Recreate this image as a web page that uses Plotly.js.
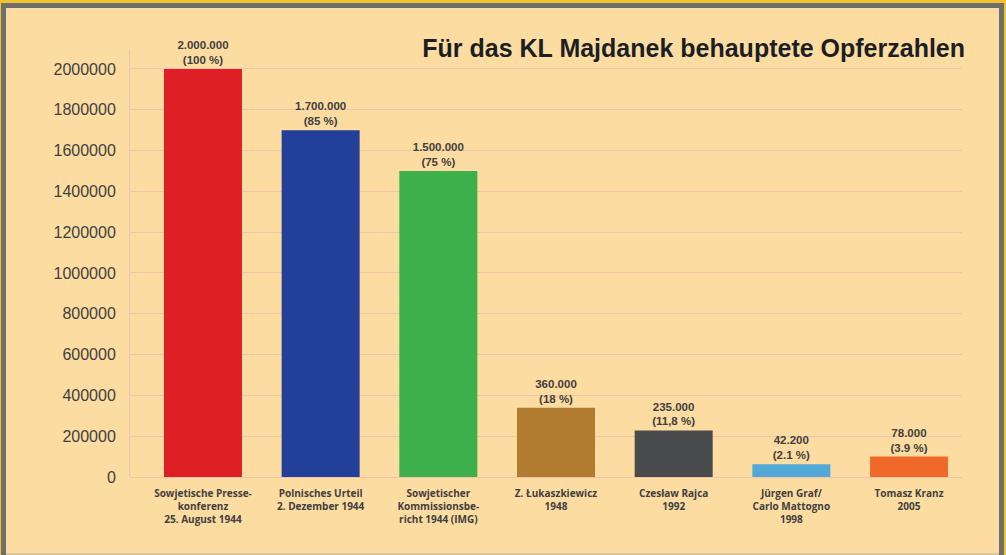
<!DOCTYPE html>
<html>
<head>
<meta charset="utf-8">
<script src="https://cdn.plot.ly/plotly-3.0.1.min.js"></script>
<style>
  html, body { margin: 0; padding: 0; background: #F2C230; }
  #outer { position: relative; width: 1006px; height: 555px; background: #F2C230; overflow: hidden; }
  #frame { position: absolute; left: 1px; top: 3px; width: 1003px; height: 552px; background: #6E6E6E; }
  #chart { position: absolute; left: 6px; top: 8px; width: 993px; height: 546px; }
  #bottomline { position: absolute; left: 6px; top: 553px; width: 993px; height: 2px; background: #D9C596; }
</style>
</head>
<body>
<div id="outer">
  <div id="frame"></div>
  <div id="chart"></div>
  <div id="bottomline"></div>
</div>
<script>
// ---- data ----
const categories = [
  "Sowjetische Presse-<br>konferenz<br>25. August 1944",
  "Polnisches Urteil<br>2. Dezember 1944",
  "Sowjetischer<br>Kommissionsbe-<br>richt 1944 (IMG)",
  "Z. Łukaszkiewicz<br>1948",
  "Czesław Rajca<br>1992",
  "Jürgen Graf/<br>Carlo Mattogno<br>1998",
  "Tomasz Kranz<br>2005"
];
const barHeights = [2000000, 1700000, 1500000, 340000, 228000, 63000, 100000];
const valueLabels = ["2.000.000", "1.700.000", "1.500.000", "360.000", "235.000", "42.200", "78.000"];
const shareLabels = ["(100 %)", "(85 %)", "(75 %)", "(18 %)", "(11,8 %)", "(2.1 %)", "(3.9 %)"];
const barColors = ["#DF1F26", "#22409A", "#3DB04B", "#B27C30", "#4A4B4D", "#53A9D6", "#EF6A2A"];
const yTickVals = [0, 200000, 400000, 600000, 800000, 1000000, 1200000, 1400000, 1600000, 1800000, 2000000];
const titleText = "Für das KL Majdanek behauptete Opferzahlen";

const barText = valueLabels.map((v, i) => "<b>" + v + "<br>" + shareLabels[i] + "</b>");
const tickText = categories.map(c => "<b>" + c + "</b>");

const trace = {
  type: "bar",
  x: categories,
  y: barHeights,
  marker: { color: barColors, line: { width: 0 } },
  text: barText,
  textposition: "outside",
  constraintext: "none",
  cliponaxis: false,
  textfont: { family: "Liberation Sans, Arial, sans-serif", size: 11.5, color: "#404040" },
  hoverinfo: "none"
};

const grid = "#F5C0AC";
const layout = {
  width: 993,
  height: 546,
  margin: { l: 124, r: 37, t: 42, b: 77 },
  paper_bgcolor: "#FDDCA1",
  plot_bgcolor: "#FDDCA1",
  showlegend: false,
  bargap: 0.337,
  title: {
    text: "<b>" + titleText + "</b>",
    font: { family: "Liberation Sans, Arial, sans-serif", size: 25, color: "#1B1F23" },
    xref: "container", x: 0.9658, xanchor: "right",
    yref: "container", y: 0.927, yanchor: "middle"
  },
  xaxis: {
    type: "category",
    range: [-0.62, 6.45],
    tickvals: categories,
    ticktext: tickText,
    tickfont: { family: "Open Sans, Noto Sans, sans-serif", size: 10, color: "#404040" },
    showgrid: false,
    showline: false,
    ticks: "",
    ticklabelstandoff: 9,
    fixedrange: true
  },
  yaxis: {
    range: [0, 2093000],
    tickvals: yTickVals,
    ticktext: yTickVals.map(v => String(v)),
    tickfont: { family: "Liberation Sans, Arial, sans-serif", size: 16, color: "#404040" },
    showgrid: true,
    gridcolor: grid,
    gridwidth: 1,
    zeroline: true,
    zerolinecolor: grid,
    zerolinewidth: 1,
    showline: true,
    linecolor: grid,
    linewidth: 1,
    ticks: "",
    ticklabelstandoff: 10,
    fixedrange: true
  }
};

Plotly.newPlot("chart", [trace], layout, { displayModeBar: false, staticPlot: true });
</script>
</body>
</html>
